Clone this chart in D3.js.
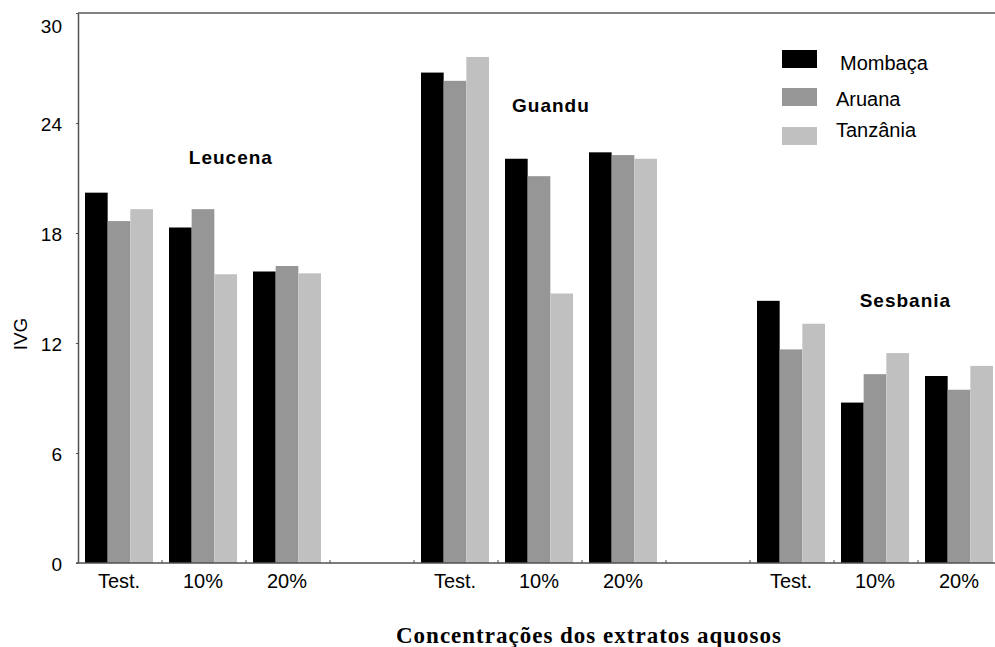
<!DOCTYPE html>
<html>
<head>
<meta charset="utf-8">
<script src="https://cdn.jsdelivr.net/npm/d3@7"></script>
<style>
    body { margin: 0; background: #fff; }
    svg { display: block; font-family: "Liberation Sans", Arial, sans-serif; }
</style>
</head>
<body>
<div id="chart"></div>
<script>
// data
const groups = ['Leucena', 'Guandu', 'Sesbania'];
const doses = ['Test.', '10%', '20%'];
const series = ['Mombaça', 'Aruana', 'Tanzânia'];

// one array per series, order: Leucena (Test,10,20), Guandu (...), Sesbania (...)
const mombaca  = [20.2, 18.3, 15.9,  26.75, 22.05, 22.4,  14.3, 8.75, 10.2];
const aruana   = [18.65, 19.3, 16.2, 26.3, 21.1, 22.25,  11.65, 10.3, 9.45];
const tanzania = [19.3, 15.75, 15.8, 27.6, 14.7, 22.05,  13.05, 11.45, 10.75];

const yTicks = [0, 6, 12, 18, 24, 30];
const yTitle = 'IVG';
const xTitle = 'Concentrações dos extratos aquosos';

const colors = {'Mombaça': '#000000', 'Aruana': '#969696', 'Tanzânia': '#c0c0c0'};

// build table
const values = [mombaca, aruana, tanzania];
let rows = [];
groups.forEach((g, gi)=>{
    doses.forEach((d, di)=>{
        let row = {slot: g + '|' + d, group: g, dose: d};
        series.forEach((s, si)=>{ row[s] = values[si][gi * 3 + di]; });
        rows.push(row);
    });
});

// slots, with an empty slot between each group
let slots = [];
groups.forEach((g, gi)=>{
    doses.forEach(d=>slots.push(g + '|' + d));
    if(gi < groups.length - 1) slots.push('gap' + gi);
});

const width = 995, height = 647;
const margin = {top: 13, left: 78, bottom: 563};

const svg = d3.select('#chart').append('svg')
    .attr('width', width)
    .attr('height', height);

const x0 = d3.scaleBand().domain(slots).range([margin.left, margin.left + 84 * slots.length]);
const x1 = d3.scaleBand().domain(series).range([7, 75]);
const y = d3.scaleLinear().domain([0, 30]).range([margin.bottom, margin.top]);

// bars
svg.append('g').selectAll('g')
    .data(rows)
    .enter()
    .append('g')
    .attr('transform', d=>'translate(' + x0(d.slot) + ',0)')
    .selectAll('rect')
    .data(d=>series.map(s=>({key: s, value: d[s]})))
    .enter()
    .append('rect')
    .attr('x', d=>x1(d.key))
    .attr('width', x1.bandwidth())
    .attr('y', d=>y(d.value))
    .attr('height', d=>y(0) - y(d.value))
    .attr('fill', d=>colors[d.key]);

// y axis
const yAxis = svg.append('g')
    .attr('transform', 'translate(' + margin.left + ',0)')
    .call(d3.axisLeft(y).tickValues(yTicks).tickSize(2).tickSizeOuter(0).tickPadding(14));
yAxis.select('.domain').attr('stroke', '#505050').attr('stroke-width', 1.5);
yAxis.selectAll('.tick line').attr('stroke', '#505050');
yAxis.selectAll('.tick text')
    .attr('font-size', 19)
    .attr('fill', '#000')
    .attr('font-family', '"Liberation Sans", Arial, sans-serif')
    .attr('dy', d=> d === 30 ? '1.05em' : '0.4em');

// x axis: boundary ticks pointing up, labels below
const xAxis = svg.append('g').attr('transform', 'translate(0,' + margin.bottom + ')');
xAxis.append('line')
    .attr('x1', margin.left - 2).attr('x2', width)
    .attr('stroke', '#505050').attr('stroke-width', 1.5);
xAxis.selectAll('.xtick')
    .data(slots.slice(1))
    .enter()
    .append('line')
    .attr('x1', d=>x0(d)).attr('x2', d=>x0(d))
    .attr('y1', 0).attr('y2', -3)
    .attr('stroke', '#505050');
xAxis.selectAll('.xlabel')
    .data(rows)
    .enter()
    .append('text')
    .text(d=>d.dose)
    .attr('x', d=>x0(d.slot) + 41)
    .attr('y', 25)
    .attr('text-anchor', 'middle')
    .attr('font-size', 20);

// top border
svg.append('line')
    .attr('x1', margin.left).attr('x2', width)
    .attr('y1', y(30)).attr('y2', y(30))
    .attr('stroke', '#5a5a5a').attr('stroke-width', 1.5);

// group names
const groupLabelPos = {'Leucena': [1.82, 21.76], 'Guandu': [5.63, 24.6], 'Sesbania': [9.85, 13.96]};
svg.append('g').selectAll('text')
    .data(groups)
    .enter()
    .append('text')
    .text(d=>d)
    .attr('x', d=>margin.left + x0.bandwidth() * groupLabelPos[d][0])
    .attr('y', d=>y(groupLabelPos[d][1]))
    .attr('text-anchor', 'middle')
    .attr('font-weight', 'bold')
    .attr('font-size', 19)
    .attr('letter-spacing', 1);

// legend
const legend = svg.append('g').attr('transform', 'translate(782,50)');
legend.selectAll('rect')
    .data(series)
    .enter()
    .append('rect')
    .attr('x', 0)
    .attr('y', (d, i)=>[0, 38, 77][i])
    .attr('width', 35)
    .attr('height', 18)
    .attr('fill', d=>colors[d]);
legend.selectAll('text')
    .data(series)
    .enter()
    .append('text')
    .text(d=>d)
    .attr('x', (d, i)=> i === 0 ? 58 : 54)
    .attr('y', (d, i)=>[20, 56, 87][i])
    .attr('font-size', 20);

// axis titles
svg.append('text')
    .text(yTitle)
    .attr('transform', 'translate(27,334) rotate(-90)')
    .attr('text-anchor', 'middle')
    .attr('font-size', 19);

svg.append('text')
    .text(xTitle)
    .attr('x', 589)
    .attr('y', 643)
    .attr('text-anchor', 'middle')
    .attr('font-family', '"Liberation Serif", "Times New Roman", serif')
    .attr('font-weight', 'bold')
    .attr('font-size', 23)
    .attr('letter-spacing', 1);
</script>
</body>
</html>
